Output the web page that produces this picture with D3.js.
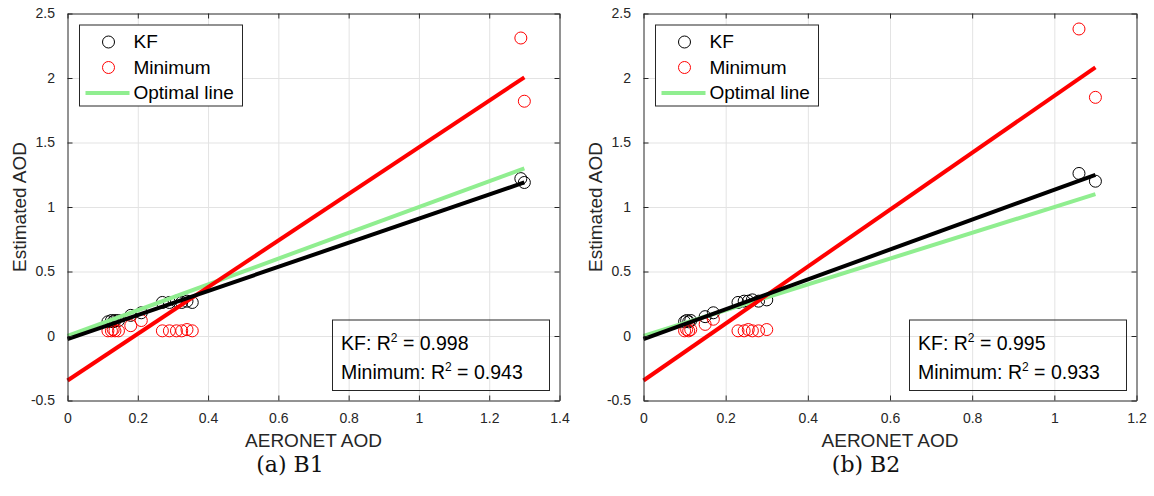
<!DOCTYPE html>
<html>
<head>
<meta charset="utf-8">
<script src="https://cdn.jsdelivr.net/npm/d3@7"></script>
<style>
  html, body { margin: 0; padding: 0; background: #fff; }
  svg { display: block; font-family: "Liberation Sans", Arial, Helvetica, sans-serif; }
</style>
</head>
<body>
<svg id="fig" width="1154" height="496"></svg>
<script>
// ---- data -------------------------------------------------------------
const xTicksB1 = [0, 0.2, 0.4, 0.6, 0.8, 1, 1.2, 1.4];
const xTicksB2 = [0, 0.2, 0.4, 0.6, 0.8, 1, 1.2];
const yTicks = [-0.5, 0, 0.5, 1, 1.5, 2, 2.5];

// Band B1: AERONET reference AOD and the two estimates
const b1Aeronet = [0.115, 0.125, 0.13, 0.135, 0.145, 0.18, 0.21, 0.27, 0.29, 0.31, 0.325, 0.34, 0.355, 1.29, 1.30];
const b1KF      = [0.11, 0.12, 0.11, 0.12, 0.12, 0.16, 0.18, 0.26, 0.26, 0.27, 0.26, 0.27, 0.26, 1.22, 1.19];
const b1Minimum = [0.04, 0.04, 0.05, 0.04, 0.04, 0.08, 0.12, 0.04, 0.04, 0.04, 0.04, 0.05, 0.04, 2.31, 1.82];

// Band B2
const b2Aeronet = [0.10, 0.105, 0.11, 0.115, 0.15, 0.17, 0.23, 0.245, 0.255, 0.265, 0.28, 0.30, 1.06, 1.10];
const b2KF      = [0.11, 0.12, 0.11, 0.12, 0.15, 0.18, 0.26, 0.27, 0.27, 0.28, 0.27, 0.28, 1.26, 1.20];
const b2Minimum = [0.04, 0.05, 0.04, 0.05, 0.09, 0.13, 0.04, 0.04, 0.05, 0.04, 0.04, 0.05, 2.38, 1.85];

// Linear fits [slope, intercept]
const b1FitKF      = [0.935, -0.025];
const b1FitMinimum = [1.808, -0.345];
const b2FitKF      = [1.159, -0.025];
const b2FitMinimum = [2.207, -0.345];

// Coefficients of determination
const b1R2 = ["0.998", "0.943"];
const b2R2 = ["0.995", "0.933"];

const legendLabels = ["KF", "Minimum", "Optimal line"];
const captions = ["(a) B1", "(b) B2"];
const xLabel = "AERONET AOD";
const yLabel = "Estimated AOD";

// ---- drawing ----------------------------------------------------------
const svg = d3.select("#fig");
const AXIS = "#262626";
const GRID = "#e3e3e3";
const GREEN = "#90ee90";
const TOP = 13.5, BOTTOM = 400.5;

const panels = [
  { left: 67.5, right: 559.5, xMax: 1.4, xTicks: xTicksB1, x: b1Aeronet, kf: b1KF, mn: b1Minimum,
    fitKF: b1FitKF, fitMn: b1FitMinimum, r2: b1R2, caption: captions[0], capX: 290 },
  { left: 643.5, right: 1136.5, xMax: 1.2, xTicks: xTicksB2, x: b2Aeronet, kf: b2KF, mn: b2Minimum,
    fitKF: b2FitKF, fitMn: b2FitMinimum, r2: b2R2, caption: captions[1], capX: 866 }
];

const fmt = d => String(+(+d).toFixed(1));

panels.forEach(p => {
  const g = svg.append("g");
  const x = d3.scaleLinear().domain([0, p.xMax]).range([p.left, p.right]);
  const y = d3.scaleLinear().domain([-0.5, 2.5]).range([BOTTOM, TOP]);
  const w = p.right - p.left, h = BOTTOM - TOP;

  // grid
  const gx = g.append("g").attr("transform", `translate(0,${BOTTOM})`)
    .call(d3.axisBottom(x).tickValues(p.xTicks.slice(1, -1)).tickSize(-h).tickFormat(""));
  const gy = g.append("g").attr("transform", `translate(${p.left},0)`)
    .call(d3.axisLeft(y).tickValues(yTicks.slice(1, -1)).tickSize(-w).tickFormat(""));
  [gx, gy].forEach(a => { a.select(".domain").remove(); a.selectAll("line").attr("stroke", GRID).attr("stroke-width", 1); });

  // data markers
  const pts = p.x.map((v, i) => ({ a: v, kf: p.kf[i], mn: p.mn[i] }));
  g.append("g").selectAll("circle").data(pts).join("circle")
    .attr("cx", d => x(d.a)).attr("cy", d => y(d.kf)).attr("r", 6)
    .attr("fill", "none").attr("stroke", "#000").attr("stroke-width", 1);
  g.append("g").selectAll("circle").data(pts).join("circle")
    .attr("cx", d => x(d.a)).attr("cy", d => y(d.mn)).attr("r", 6)
    .attr("fill", "none").attr("stroke", "#ff0000").attr("stroke-width", 1);

  // optimal line and fitted lines
  const xEnd = d3.max(p.x);
  const line = d3.line().x(d => x(d[0])).y(d => y(d[1]));
  const seg = f => [[0, f[1]], [xEnd, f[0] * xEnd + f[1]]];
  g.append("path").attr("d", line([[0, 0], [xEnd, xEnd]]))
    .attr("stroke", GREEN).attr("stroke-width", 4).attr("fill", "none");
  g.append("path").attr("d", line(seg(p.fitMn)))
    .attr("stroke", "#ff0000").attr("stroke-width", 4).attr("fill", "none");
  g.append("path").attr("d", line(seg(p.fitKF)))
    .attr("stroke", "#000").attr("stroke-width", 4).attr("fill", "none");

  // axes with inward ticks on all four sides
  const styleAxis = a => {
    a.select(".domain").attr("stroke", AXIS);
    a.selectAll(".tick line").attr("stroke", AXIS);
    a.selectAll("text").attr("fill", AXIS).attr("font-size", 14)
      .attr("font-family", "'Liberation Sans', Arial, sans-serif");
    a.attr("font-family", null).attr("font-size", null);
  };
  styleAxis(g.append("g").attr("transform", `translate(0,${BOTTOM})`)
    .call(d3.axisBottom(x).tickValues(p.xTicks).tickFormat(fmt).tickSizeInner(-5).tickSizeOuter(0).tickPadding(13)));
  styleAxis(g.append("g").attr("transform", `translate(0,${TOP})`)
    .call(d3.axisTop(x).tickValues(p.xTicks).tickFormat("").tickSizeInner(-5).tickSizeOuter(0)));
  styleAxis(g.append("g").attr("transform", `translate(${p.left},0)`)
    .call(d3.axisLeft(y).tickValues(yTicks).tickFormat(fmt).tickSizeInner(-5).tickSizeOuter(0).tickPadding(12.5)));
  styleAxis(g.append("g").attr("transform", `translate(${p.right},0)`)
    .call(d3.axisRight(y).tickValues(yTicks).tickFormat("").tickSizeInner(-5).tickSizeOuter(0)));

  // legend
  const lg = g.append("g").attr("transform", `translate(${p.left + 12},25)`);
  lg.append("rect").attr("x", 0).attr("y", 0).attr("width", 163).attr("height", 81)
    .attr("fill", "#fff").attr("stroke", AXIS).attr("stroke-width", 1);
  const rows = [17, 42.5, 68];
  lg.append("circle").attr("cx", 29).attr("cy", rows[0]).attr("r", 6)
    .attr("fill", "none").attr("stroke", "#000");
  lg.append("circle").attr("cx", 29).attr("cy", rows[1]).attr("r", 6)
    .attr("fill", "none").attr("stroke", "#ff0000");
  lg.append("line").attr("x1", 6).attr("x2", 50).attr("y1", rows[2]).attr("y2", rows[2])
    .attr("stroke", GREEN).attr("stroke-width", 4);
  lg.selectAll("text.lab").data(legendLabels).join("text").attr("class", "lab")
    .attr("x", 54).attr("y", (d, i) => rows[i]).attr("dy", "0.34em")
    .attr("font-size", 19).attr("fill", "#000").text(d => d);

  // R^2 annotation box
  const bw = 217, bh = 70.5;
  const tb = g.append("g").attr("transform", `translate(${p.right - 10 - bw},${BOTTOM - 10 - bh})`);
  tb.append("rect").attr("width", bw).attr("height", bh)
    .attr("fill", "none").attr("stroke", AXIS).attr("stroke-width", 1);
  [["KF: R", p.r2[0]], ["Minimum: R", p.r2[1]]].forEach((t, i) => {
    const tx = tb.append("text").attr("x", 8.5).attr("y", 30 + i * 29)
      .attr("font-size", 19.5).attr("fill", "#000");
    tx.append("tspan").text(t[0]);
    tx.append("tspan").attr("font-size", 12).attr("dy", -8).text("2");
    tx.append("tspan").attr("dy", 8).text(" = " + t[1]);
  });

  // axis titles
  g.append("text").attr("x", (p.left + p.right) / 2).attr("y", 447)
    .attr("text-anchor", "middle").attr("font-size", 19).attr("fill", AXIS).text(xLabel);
  g.append("text").attr("transform", `translate(${p.left - 41.5},${(TOP + BOTTOM) / 2}) rotate(-90)`)
    .attr("text-anchor", "middle").attr("font-size", 19).attr("fill", AXIS).text(yLabel);

  // sub-figure caption
  g.append("text").attr("x", p.capX).attr("y", 472).attr("text-anchor", "middle")
    .attr("font-family", "'DejaVu Serif', serif").attr("font-size", 22).attr("fill", "#111")
    .text(p.caption);
});
</script>
</body>
</html>
